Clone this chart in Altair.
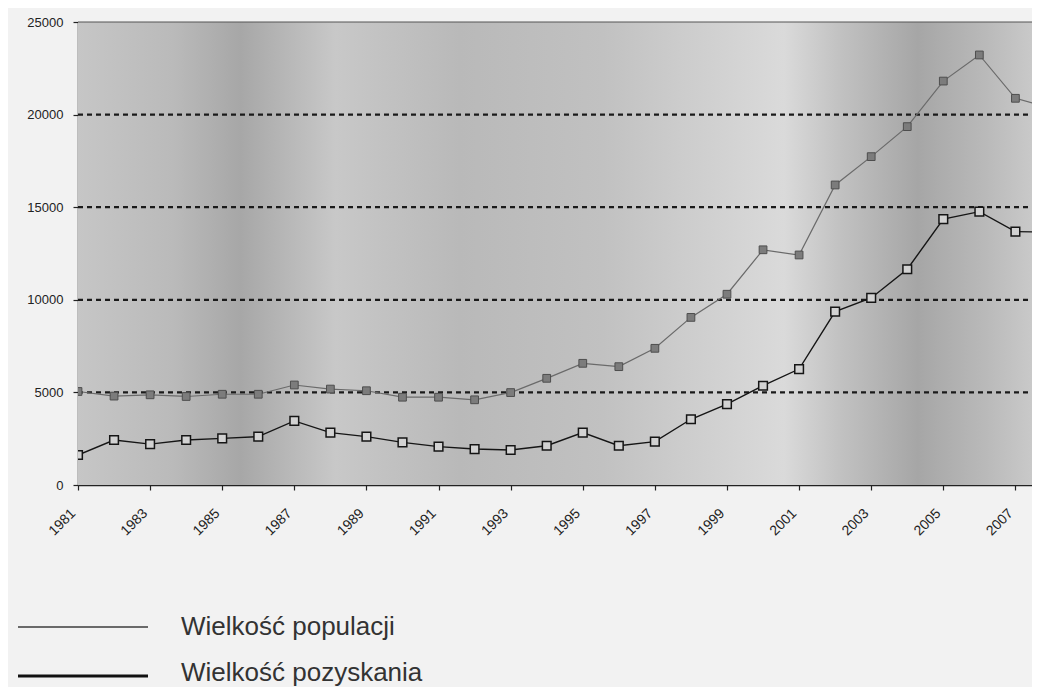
import altair as alt
import pandas as pd

# ---- data ----
years = list(range(1981, 2009))
populacja = [5050, 4800, 4870, 4780, 4900, 4900, 5400, 5180, 5090, 4740, 4740, 4600,
             4990, 5760, 6570, 6390, 7380, 9050, 10300, 12700, 12420, 16200, 17730,
             19350, 21810, 23220, 20880, 20350]
pozyskanie = [1620, 2430, 2210, 2430, 2520, 2610, 3460, 2830, 2610, 2300, 2070, 1940,
              1890, 2120, 2830, 2120, 2340, 3550, 4370, 5360, 6260, 9360, 10100,
              11650, 14360, 14760, 13680, 13650]
series_names = ["Wielkość populacji", "Wielkość pozyskania"]
x_tick_years = list(range(1981, 2008))
y_ticks = [0, 5000, 10000, 15000, 20000, 25000]
grid_values = [5000, 10000, 15000, 20000]

W, H = 954, 463
FONT = "Liberation Sans"

df_pop = pd.DataFrame({"rok": years, "wartosc": populacja, "seria": series_names[0]})
df_poz = pd.DataFrame({"rok": years, "wartosc": pozyskanie, "seria": series_names[1]})
df_grid = pd.DataFrame({"v": grid_values})

x_scale = alt.Scale(domain=[1981, 2007.46], nice=False, zero=False)
y_scale = alt.Scale(domain=[0, 25000], nice=False, zero=True)

x_axis = alt.Axis(
    values=x_tick_years, format="d", title=None, grid=False,
    labelExpr="datum.value % 2 == 1 ? datum.label : ''",
    labelAngle=315, labelAlign="right", labelBaseline="top",
    labelPadding=16, labelOffset=-10, labelOverlap=False, labelFlush=False, labelBound=False,
    labelFont=FONT, labelFontSize=14, labelColor="#222",
    domainColor="#222", domainWidth=1.5, tickColor="#222", tickSize=5, tickWidth=1.2,
)
y_axis = alt.Axis(
    values=y_ticks, format="d", title=None, grid=False,
    labelPadding=10, labelFont=FONT, labelFontSize=13, labelColor="#222",
    domainColor="#222", domainWidth=1.5, tickColor="#222", tickSize=5, tickWidth=1.2,
)

bg_gradient = alt.LinearGradient(
    gradient="linear", x1=0, x2=1, y1=0, y2=0,
    stops=[
        alt.GradientStop(color="#c6c6c6", offset=0.0),
        alt.GradientStop(color="#bababa", offset=0.10),
        alt.GradientStop(color="#a7a7a7", offset=0.17),
        alt.GradientStop(color="#c8c8c8", offset=0.27),
        alt.GradientStop(color="#b9b9b9", offset=0.40),
        alt.GradientStop(color="#c1c1c1", offset=0.55),
        alt.GradientStop(color="#cccccc", offset=0.63),
        alt.GradientStop(color="#dadada", offset=0.74),
        alt.GradientStop(color="#c1c1c1", offset=0.80),
        alt.GradientStop(color="#a6a6a6", offset=0.88),
        alt.GradientStop(color="#b9b9b9", offset=0.95),
        alt.GradientStop(color="#c9c9c9", offset=1.0),
    ],
)

base_one = alt.Chart(pd.DataFrame({"k": [0]}))

background = base_one.mark_rect(fill=bg_gradient).encode(
    x=alt.value(0), x2=alt.value(W), y=alt.value(0), y2=alt.value(H)
)
top_border = base_one.mark_rule(color="#555", strokeWidth=1).encode(
    x=alt.value(0), x2=alt.value(W), y=alt.value(0)
)
grid = alt.Chart(df_grid).mark_rule(color="#1a1a1a", strokeWidth=2.2, strokeDash=[5, 4]).encode(
    y=alt.Y("v:Q", scale=y_scale, axis=y_axis), x=alt.value(0), x2=alt.value(W)
)

pop_line = alt.Chart(df_pop).mark_line(color="#6a6a6a", strokeWidth=1.2, clip=True).encode(
    x=alt.X("rok:Q", scale=x_scale, axis=x_axis),
    y=alt.Y("wartosc:Q", scale=y_scale, axis=y_axis),
)
pop_pts = alt.Chart(df_pop).mark_point(
    shape="square", filled=True, size=60, fill="#7c7c7c", stroke="#4e4e4e",
    strokeWidth=1, opacity=1, clip=True
).encode(x=alt.X("rok:Q", scale=x_scale), y=alt.Y("wartosc:Q", scale=y_scale))

poz_line = alt.Chart(df_poz).mark_line(color="#151515", strokeWidth=1.4, clip=True).encode(
    x=alt.X("rok:Q", scale=x_scale), y=alt.Y("wartosc:Q", scale=y_scale)
)
poz_pts = alt.Chart(df_poz).mark_point(
    shape="square", filled=True, size=75, fill="#d2d2d2", stroke="#151515",
    strokeWidth=1.5, opacity=1, clip=True
).encode(x=alt.X("rok:Q", scale=x_scale), y=alt.Y("wartosc:Q", scale=y_scale))

# legend (drawn below the plot)
leg1_df = pd.DataFrame({"seria": [series_names[0]]})
leg2_df = pd.DataFrame({"seria": [series_names[1]]})
leg1_line = alt.Chart(leg1_df).mark_rule(color="#6a6a6a", strokeWidth=2).encode(
    x=alt.value(-60), x2=alt.value(70), y=alt.value(605)
)
leg2_line = alt.Chart(leg2_df).mark_rule(color="#111", strokeWidth=3).encode(
    x=alt.value(-60), x2=alt.value(70), y=alt.value(654)
)
leg1_text = alt.Chart(leg1_df).mark_text(
    align="left", baseline="middle", font=FONT, fontSize=26, color="#333"
).encode(text="seria:N", x=alt.value(103), y=alt.value(605))
leg2_text = alt.Chart(leg2_df).mark_text(
    align="left", baseline="middle", font=FONT, fontSize=26, color="#333"
).encode(text="seria:N", x=alt.value(103), y=alt.value(651))

chart = alt.layer(
    background, grid, top_border, pop_line, poz_line, pop_pts, poz_pts,
    leg1_line, leg2_line, leg1_text, leg2_text,
).properties(
    width=W, height=H,
    padding={"left": 70, "top": 14, "right": 0, "bottom": 202},
    autosize=alt.AutoSizeParams(type="none"),
    background="#f2f2f2",
).configure_view(stroke=None)

chart.save("out.html", embed_options={"renderer": "svg", "actions": False})
